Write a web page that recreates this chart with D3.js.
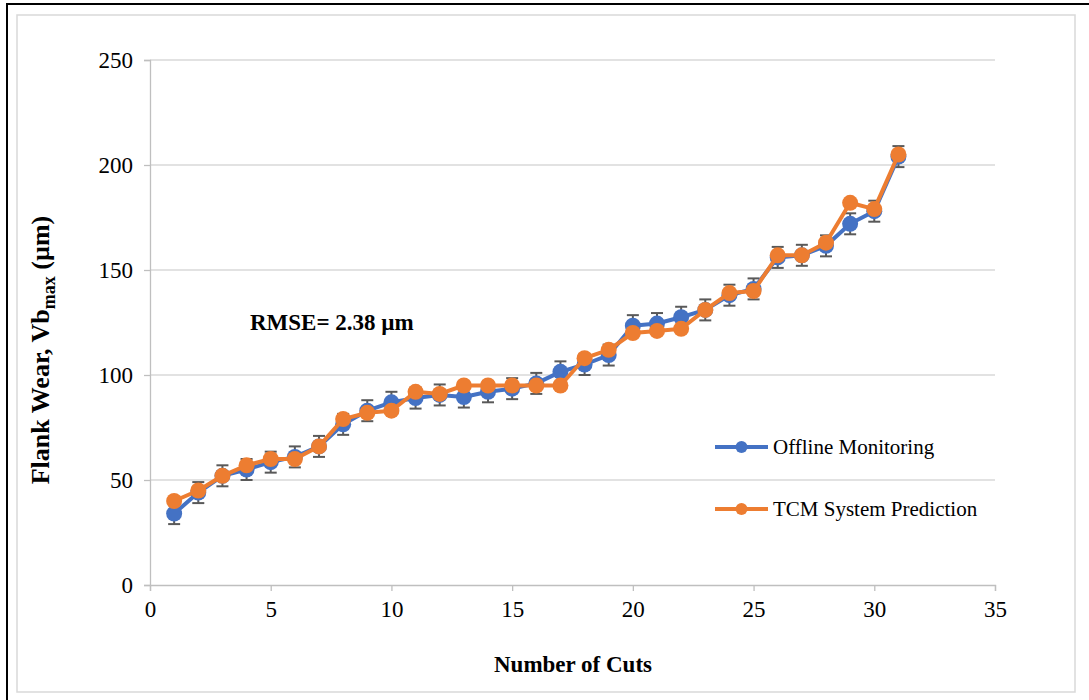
<!DOCTYPE html>
<html>
<head>
<meta charset="utf-8">
<script src="https://cdn.jsdelivr.net/npm/d3@7"></script>
<style>
  html, body { margin: 0; padding: 0; background: #fff; }
  svg text { font-family: "Liberation Serif", "Times New Roman", serif; }
</style>
</head>
<body>
<svg id="chart" width="1089" height="700"></svg>
<script>
// Flank wear per cut: offline measurement vs. TCM system prediction
const cuts = d3.range(1, 32);
const offlineMonitoring = [34, 44, 52, 55, 58.5, 61, 66, 76.5, 83, 87, 89, 90.5, 89.5, 92, 93.5,
  96, 101.5, 105, 109.5, 123.5, 124.5, 127.5, 131, 138, 141, 156, 157, 161.5, 172, 178, 204];
const tcmPrediction = [40, 45, 52, 57, 60, 60, 66, 79, 82, 83, 92, 91, 95, 95, 95,
  95, 95, 108, 112, 120, 121, 122, 131, 139, 140, 157, 157, 163, 182, 179, 205];
const errorAmount = 5;
const xTicks = [0, 5, 10, 15, 20, 25, 30, 35];
const yTicks = [0, 50, 100, 150, 200, 250];
const seriesNames = ["Offline Monitoring", "TCM System Prediction"];
const seriesColors = ["#4472C4", "#ED7D31"];

const svg = d3.select("#chart");
const serif = '"Liberation Serif", "Times New Roman", serif';

// frame
svg.append("line").attr("x1", 7).attr("x2", 1089).attr("y1", 4).attr("y2", 4)
  .attr("stroke", "#000").attr("stroke-width", 2);
svg.append("line").attr("x1", 7).attr("x2", 7).attr("y1", 3).attr("y2", 700)
  .attr("stroke", "#000").attr("stroke-width", 2);
svg.append("rect").attr("x", 17).attr("y", 15).attr("width", 1058).attr("height", 677)
  .attr("fill", "none").attr("stroke", "#d9d9d9").attr("stroke-width", 1.5);

const x = d3.scaleLinear().domain([0, 35]).range([150, 995]);
const y = d3.scaleLinear().domain([0, 250]).range([585, 60]);

// horizontal gridlines
svg.append("g").selectAll("line").data(yTicks.filter(d => d > 0)).join("line")
  .attr("x1", x(0)).attr("x2", x(35))
  .attr("y1", d => y(d)).attr("y2", d => y(d))
  .attr("stroke", "#d9d9d9").attr("stroke-width", 1.3);

// axes
const xAxis = svg.append("g").attr("transform", `translate(0,${y(0)})`)
  .call(d3.axisBottom(x).tickValues(xTicks).tickSize(6).tickPadding(8).tickFormat(d3.format("d")));
const yAxis = svg.append("g").attr("transform", `translate(${x(0)},0)`)
  .call(d3.axisLeft(y).tickValues(yTicks).tickSize(6).tickPadding(11).tickFormat(d3.format("d")));
[xAxis, yAxis].forEach(g => {
  g.select(".domain").attr("stroke", "#bfbfbf").attr("stroke-width", 1.3);
  g.selectAll(".tick line").attr("stroke", "#bfbfbf").attr("stroke-width", 1.3);
  g.selectAll(".tick text").attr("fill", "#000").style("font-size", "23px")
    .style("font-family", serif);
});
xAxis.selectAll(".tick text").attr("dy", "0.8em");

// error bars on the offline series
const eb = svg.append("g").attr("stroke", "#595959").attr("stroke-width", 2);
cuts.forEach((c, i) => {
  const v = offlineMonitoring[i];
  const cx = x(c);
  eb.append("line").attr("x1", cx).attr("x2", cx).attr("y1", y(v - errorAmount)).attr("y2", y(v + errorAmount));
  eb.append("line").attr("x1", cx - 6).attr("x2", cx + 6).attr("y1", y(v - errorAmount)).attr("y2", y(v - errorAmount));
  eb.append("line").attr("x1", cx - 6).attr("x2", cx + 6).attr("y1", y(v + errorAmount)).attr("y2", y(v + errorAmount));
});

// series lines and markers
const line = d3.line().x(d => x(d[0])).y(d => y(d[1]));
[offlineMonitoring, tcmPrediction].forEach((vals, s) => {
  const pts = cuts.map((c, i) => [c, vals[i]]);
  const g = svg.append("g");
  g.append("path").datum(pts).attr("d", line).attr("fill", "none")
    .attr("stroke", seriesColors[s]).attr("stroke-width", 4).attr("stroke-linejoin", "round");
  g.selectAll("circle").data(pts).join("circle")
    .attr("cx", d => x(d[0])).attr("cy", d => y(d[1])).attr("r", 8)
    .attr("fill", seriesColors[s]);
});

// legend
const legendY = [447, 509];
seriesNames.forEach((name, s) => {
  const g = svg.append("g").attr("transform", `translate(715,${legendY[s]})`);
  g.append("line").attr("x1", 0).attr("x2", 53).attr("stroke", seriesColors[s]).attr("stroke-width", 4);
  g.append("circle").attr("cx", 26.5).attr("r", 6).attr("fill", seriesColors[s]);
  g.append("text").attr("x", 58).attr("dy", "0.35em").style("font-size", "21px").text(name);
});

// annotation
svg.append("text").attr("x", 250).attr("y", 330).style("font-size", "23px").style("font-weight", "bold")
  .text("RMSE= 2.38 µm");

// axis titles
svg.append("text").attr("x", 573).attr("y", 672).attr("text-anchor", "middle")
  .style("font-size", "23px").style("font-weight", "bold").text("Number of Cuts");

const yt = svg.append("text").attr("transform", `translate(49,350) rotate(-90)`)
  .attr("text-anchor", "middle").style("font-size", "26px").style("font-weight", "bold");
yt.append("tspan").text("Flank Wear, Vb");
yt.append("tspan").attr("dy", 6).style("font-size", "18px").text("max");
yt.append("tspan").attr("dy", -6).text(" (µm)");
</script>
</body>
</html>
